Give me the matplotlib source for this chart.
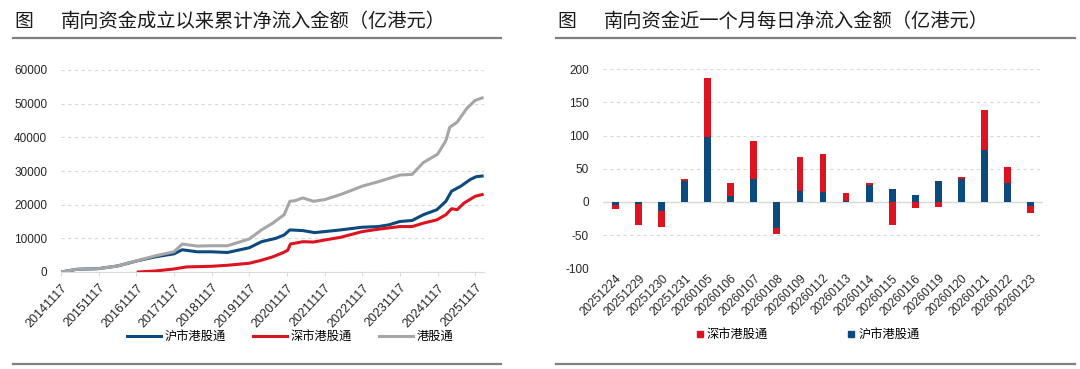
import numpy as np
import pandas as pd
import matplotlib
matplotlib.use("Agg")
import matplotlib.pyplot as plt
from matplotlib.lines import Line2D

plt.rcParams['font.family'] = ['Liberation Sans', 'Noto Sans CJK SC']
plt.rcParams['axes.unicode_minus'] = False

# ---- left chart: cumulative net inflow (HKD 100m) ----
hk_dates = ["2014-11-17", "2015-04-20", "2015-11-17", "2016-05-20", "2016-11-17",
            "2017-05-20", "2017-11-17", "2018-02-05", "2018-07-01", "2018-11-17",
            "2019-04-20", "2019-11-17", "2020-03-15", "2020-07-01", "2020-10-20",
            "2020-12-15", "2021-02-05", "2021-04-20", "2021-08-01", "2021-11-17",
            "2022-04-20", "2022-08-01", "2022-11-17", "2023-04-20", "2023-11-17",
            "2024-03-15", "2024-07-01", "2024-11-17", "2025-02-05", "2025-03-15",
            "2025-05-25", "2025-08-25", "2025-11-17", "2026-01-23"]
hk_total = [0, 800, 1000, 1800, 3300,
            4800, 6000, 8300, 7700, 7800,
            7800, 9800, 12500, 14500, 17000,
            21000, 21200, 22000, 21000, 21500,
            23000, 24200, 25500, 26800, 28800,
            29000, 32500, 35000, 39000, 43000,
            44500, 48500, 51000, 51700]

sh_dates = ["2014-11-17", "2015-04-20", "2015-11-17", "2016-05-20", "2016-12-05",
            "2017-05-20", "2017-11-17", "2018-02-05", "2018-07-01", "2018-11-17",
            "2019-04-20", "2019-11-17", "2020-03-15", "2020-08-01", "2020-10-20",
            "2020-12-15", "2021-04-20", "2021-08-10", "2021-11-17", "2022-04-20",
            "2022-11-17", "2023-04-20", "2023-08-01", "2023-11-17", "2024-03-15",
            "2024-07-01", "2024-11-10", "2025-02-05", "2025-04-01", "2025-07-01",
            "2025-10-01", "2025-11-25", "2026-01-23"]
sh_total = [0, 800, 1000, 1800, 3400,
            4500, 5400, 6600, 6000, 6000,
            5800, 7200, 9000, 10000, 11000,
            12500, 12300, 11700, 12000, 12500,
            13300, 13500, 14000, 15000, 15300,
            17000, 18500, 21000, 24000, 25500,
            27500, 28300, 28500]

sz_dates = ["2016-12-05", "2017-05-20", "2017-11-17", "2018-03-15", "2018-11-17",
            "2019-04-20", "2019-11-17", "2020-03-15", "2020-07-01", "2020-10-15",
            "2020-11-25", "2020-12-20", "2021-04-20", "2021-08-01", "2021-11-17",
            "2022-04-20", "2022-11-17", "2023-04-20", "2023-11-17", "2024-03-15",
            "2024-07-01", "2024-11-10", "2025-02-05", "2025-04-01", "2025-05-25",
            "2025-08-01", "2025-11-17", "2026-01-23"]
sz_total = [0, 300, 900, 1500, 1700,
            2000, 2600, 3500, 4500, 5800,
            6500, 8300, 9000, 8900, 9500,
            10300, 12000, 12700, 13500, 13500,
            14500, 15500, 17000, 18800, 18500,
            20500, 22500, 23000]

left_ticks = ["20141117", "20151117", "20161117", "20171117", "20181117", "20191117",
              "20201117", "20211117", "20221117", "20231117", "20241117", "20251117"]

# ---- right chart: daily net inflow over the last month ----
days = ["20251224", "20251229", "20251230", "20251231", "20260105", "20260106",
        "20260107", "20260108", "20260109", "20260112", "20260113", "20260114",
        "20260115", "20260116", "20260119", "20260120", "20260121", "20260122",
        "20260123"]
sh_daily = [-5, -3, -13, 31, 98, 9, 35, -39, 17, 15, 1, 26, 20, 11, 31, 35, 78, 28, -6]
sz_daily = [-6, -31, -25, 3, 89, 20, 57, -10, 51, 58, 12, 3, -34, -9, -7, 2, 61, 24, -10]

BLUE = "#0c4a7e"
RED = "#dc1420"
GRAY = "#a6a6a6"
GRID = "#d9d9d9"
W, H = 1080, 369

fig = plt.figure(figsize=(W / 100, H / 100), dpi=100)


def fx(px):
    return px / W


def fy(py):
    return 1 - py / H


# titles and rules
for x0, x1, title in [(13, 501, "南向资金成立以来累计净流入金额（亿港元）"),
                      (556, 1075, "南向资金近一个月每日净流入金额（亿港元）")]:
    fig.text(fx(x0 + 1), fy(21), "图", fontsize=13.5, va="center", ha="left",
             family=['Noto Sans CJK SC'], color="#1a1a1a")
    fig.text(fx(x0 + 48), fy(21), title, fontsize=13.9, va="center", ha="left",
             family=['Noto Sans CJK SC'], color="#1a1a1a")
    fig.add_artist(Line2D([fx(x0), fx(x1)], [fy(38), fy(38)], color="#7f7f7f", lw=1.6))
    fig.add_artist(Line2D([fx(x0), fx(x1)], [fy(364), fy(364)], color="#7f7f7f", lw=1.6))

# ---- left axes ----
ax1 = fig.add_axes([fx(61), fy(272), fx(484 - 61), (272 - 70) / H])
ax1.plot(pd.to_datetime(sh_dates), sh_total, color=BLUE, lw=2.2, label="沪市港股通", zorder=3)
ax1.plot(pd.to_datetime(sz_dates), sz_total, color=RED, lw=2.2, label="深市港股通", zorder=3)
ax1.plot(pd.to_datetime(hk_dates), hk_total, color=GRAY, lw=2.2, label="港股通", zorder=4)
ax1.set_ylim(0, 60000)
ax1.set_yticks(np.arange(0, 60001, 10000))
ax1.set_xlim(pd.Timestamp("2014-11-17"), pd.Timestamp("2026-02-10"))
ax1.set_xticks(pd.to_datetime(left_ticks, format="%Y%m%d"))
ax1.set_xticklabels(left_ticks, rotation=47, ha="right", rotation_mode="anchor")
ax1.grid(axis="y", color=GRID, ls=(0, (3, 3)), lw=0.8)
ax1.set_axisbelow(True)
for s in ["top", "right", "left"]:
    ax1.spines[s].set_visible(False)
ax1.spines["bottom"].set_color(GRID)
ax1.tick_params(axis="y", length=0, labelsize=8.5, pad=10, colors="#262626")
ax1.tick_params(axis="x", length=3, color=GRID, labelsize=9, pad=4, labelcolor="#262626")
ax1.legend(loc="center", bbox_to_anchor=(fx(290), fy(337)), bbox_transform=fig.transFigure,
           ncol=3, frameon=False, fontsize=8.8, handlelength=2.8, columnspacing=2.2,
           handletextpad=0.3)

# ---- right axes ----
ax2 = fig.add_axes([fx(603), fy(268.3), fx(1043 - 603), (268.3 - 69.3) / H])
x = np.arange(len(days))
sh = np.array(sh_daily)
sz = np.array(sz_daily)
bottom_sz = np.where(np.sign(sz) == np.sign(sh), sh, 0)
ax2.bar(x, sh, width=0.3, color=BLUE, label="沪市港股通", zorder=3)
ax2.bar(x, sz, width=0.3, bottom=bottom_sz, color=RED, label="深市港股通", zorder=3)
ax2.set_ylim(-100, 200)
ax2.set_yticks(np.arange(-100, 201, 50))
ax2.set_xlim(-0.55, len(days) - 0.45)
ax2.set_xticks(x)
ax2.set_xticklabels(days, rotation=45, ha="right", rotation_mode="anchor")
ax2.grid(axis="y", color=GRID, ls=(0, (3, 3)), lw=0.8)
ax2.axhline(0, color=GRID, lw=1, zorder=2)
ax2.set_axisbelow(True)
for s in ["top", "right", "left", "bottom"]:
    ax2.spines[s].set_visible(False)
ax2.tick_params(axis="y", length=0, labelsize=8.5, pad=10, colors="#262626")
ax2.tick_params(axis="x", length=0, labelsize=8.5, pad=3, labelcolor="#262626")
handles = [Line2D([], [], marker="s", ls="none", color=RED, markersize=4.5),
           Line2D([], [], marker="s", ls="none", color=BLUE, markersize=4.5)]
ax2.legend(handles, ["深市港股通", "沪市港股通"], loc="center",
           bbox_to_anchor=(fx(808), fy(335)), bbox_transform=fig.transFigure,
           ncol=2, frameon=False, fontsize=8.8, handlelength=0.6, handletextpad=0.3,
           columnspacing=6.5)

fig.savefig("out.png", dpi=100)
